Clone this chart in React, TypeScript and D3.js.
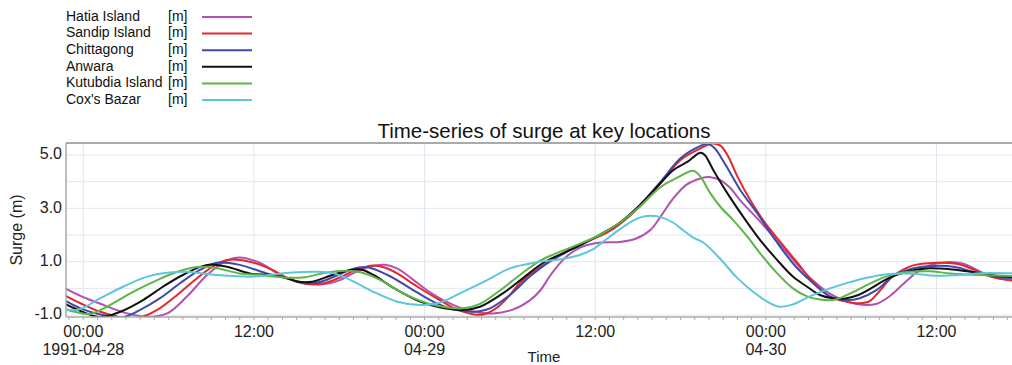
import React from "react";
import * as d3 from "d3";

// hours after 1991-04-28 00:00 -> surge (m)
const hatia: [number, number][] = [
  [-1.6, 0.08], [-0.2, -0.28], [1.2, -0.58], [3.1, -0.94], [4.5, -1.07], [5.9, -0.94],
  [7.3, -0.3], [8.7, 0.5], [10.1, 1.04], [11.0, 1.16], [12.4, 0.96], [14.0, 0.46],
  [15.7, 0.19], [17.0, 0.16], [18.0, 0.3], [19.1, 0.6], [20.2, 0.82], [21.2, 0.88],
  [22.1, 0.74], [23.0, 0.4], [24.2, -0.08], [25.6, -0.52], [27.2, -0.85], [28.8, -0.94],
  [30.2, -0.8], [31.4, -0.45], [32.1, -0.1], [33.0, 0.6], [34.0, 1.2], [34.9, 1.52],
  [36.1, 1.7], [37.7, 1.74], [38.8, 1.85], [39.9, 2.2], [40.6, 2.69], [41.5, 3.38],
  [42.4, 3.88], [43.4, 4.12], [44.1, 4.17], [44.8, 4.06], [45.5, 3.76], [46.2, 3.3],
  [47.6, 2.5], [49.0, 1.65], [50.2, 0.9], [51.3, 0.3], [52.5, -0.2], [53.7, -0.5],
  [54.8, -0.62], [55.8, -0.58], [56.7, -0.3], [57.6, 0.13], [58.6, 0.6], [59.5, 0.86],
  [60.7, 0.98], [61.9, 0.92], [63.1, 0.62], [64.3, 0.38], [65.5, 0.3],
];

const sandip: [number, number][] = [
  [-1.6, -0.19], [-0.2, -0.56], [1.2, -0.88], [2.6, -1.08], [3.8, -1.12], [5.2, -0.81],
  [6.6, -0.25], [8.0, 0.38], [9.1, 0.81], [10.1, 1.06], [11.7, 1.0], [13.3, 0.69],
  [14.5, 0.35], [15.9, 0.15], [17.0, 0.2], [18.1, 0.42], [19.2, 0.7], [20.4, 0.86],
  [21.2, 0.78], [22.1, 0.55], [23.5, 0.06], [25.1, -0.45], [26.3, -0.8], [27.4, -0.97],
  [28.2, -0.97], [29.1, -0.72], [30.0, -0.25], [30.7, 0.2], [31.6, 0.6], [32.6, 0.95],
  [34.2, 1.44], [35.4, 1.75], [36.8, 2.08], [37.7, 2.4], [39.1, 3.05], [40.6, 3.95],
  [42.0, 4.81], [43.4, 5.25], [44.2, 5.43], [44.8, 5.35], [45.3, 5.0], [46.0, 4.19],
  [46.9, 3.31], [47.8, 2.56], [49.0, 1.75], [50.2, 0.97], [51.3, 0.25], [52.5, -0.31],
  [53.7, -0.5], [54.6, -0.56], [55.3, -0.48], [56.0, -0.1], [56.9, 0.44], [58.3, 0.85],
  [60.0, 0.96], [61.4, 0.92], [62.6, 0.71], [63.8, 0.44], [65.5, 0.28],
];

const chittagong: [number, number][] = [
  [-1.6, -0.37], [-0.2, -0.75], [1.2, -0.98], [2.8, -1.08], [4.0, -0.81], [5.4, -0.37],
  [6.8, 0.19], [8.2, 0.69], [9.4, 0.96], [11.0, 0.88], [12.9, 0.56], [14.2, 0.4],
  [15.5, 0.2], [16.5, 0.22], [17.7, 0.45], [18.8, 0.7], [19.9, 0.8], [21.4, 0.5],
  [23.0, 0.0], [24.6, -0.5], [26.0, -0.79], [27.4, -0.88], [28.6, -0.75], [30.0, -0.25],
  [31.4, 0.44], [32.8, 1.0], [34.2, 1.42], [36.3, 2.0], [37.7, 2.45], [39.1, 3.1],
  [40.6, 4.0], [42.0, 4.88], [43.4, 5.34], [43.9, 5.42], [44.4, 5.25], [45.1, 4.69],
  [46.2, 3.69], [47.4, 2.81], [48.5, 1.94], [49.9, 0.94], [51.1, 0.3], [52.5, -0.3],
  [53.7, -0.44], [54.6, -0.37], [55.8, -0.06], [56.9, 0.44], [58.4, 0.75], [59.8, 0.84],
  [61.2, 0.81], [62.6, 0.62], [64.0, 0.44], [65.5, 0.38],
];

const anwara: [number, number][] = [
  [-1.6, -0.5], [-0.2, -0.85], [1.2, -1.08], [2.6, -0.88], [4.2, -0.44], [5.6, 0.06],
  [7.0, 0.5], [8.7, 0.88], [10.1, 0.81], [11.7, 0.56], [13.1, 0.5], [14.2, 0.4],
  [15.0, 0.26], [16.1, 0.25], [17.4, 0.48], [18.8, 0.69], [19.6, 0.7], [20.4, 0.5],
  [22.0, -0.04], [23.7, -0.5], [25.1, -0.72], [26.7, -0.81], [27.9, -0.69], [29.5, -0.19],
  [30.9, 0.38], [32.3, 0.94], [33.7, 1.31], [34.9, 1.6], [36.3, 2.0], [37.7, 2.45],
  [39.1, 3.1], [39.9, 3.55], [40.6, 3.95], [41.5, 4.44], [42.5, 4.75], [42.9, 4.92],
  [43.4, 5.08], [43.7, 5.0], [44.3, 4.44], [45.3, 3.56], [46.4, 2.69], [47.6, 1.81],
  [48.8, 1.06], [49.9, 0.44], [50.9, 0.06], [51.8, -0.25], [52.7, -0.37], [53.6, -0.38],
  [54.5, -0.25], [55.3, -0.03], [56.7, 0.4], [58.1, 0.65], [59.5, 0.75], [60.9, 0.72],
  [62.4, 0.62], [63.8, 0.5], [65.5, 0.42],
];

const kutubdia: [number, number][] = [
  [-1.6, -0.72], [-0.6, -0.88], [0.5, -0.96], [1.9, -0.62], [3.5, -0.13], [5.2, 0.31],
  [6.6, 0.62], [8.0, 0.8], [9.4, 0.75], [11.0, 0.56], [12.4, 0.5], [14.3, 0.4],
  [15.6, 0.42], [17.0, 0.58], [18.4, 0.66], [19.5, 0.6], [20.9, 0.31], [22.5, -0.19],
  [24.2, -0.56], [25.6, -0.72], [26.7, -0.75], [27.9, -0.58], [29.3, -0.08], [30.7, 0.5],
  [32.1, 1.03], [33.2, 1.3], [34.6, 1.6], [36.3, 2.0], [37.7, 2.45], [39.1, 3.05],
  [40.6, 3.8], [41.7, 4.13], [42.9, 4.41], [43.4, 4.19], [44.1, 3.56], [44.8, 3.06],
  [45.7, 2.56], [46.7, 1.94], [47.6, 1.31], [48.8, 0.56], [49.9, 0.0], [50.9, -0.3],
  [51.8, -0.42], [52.9, -0.42], [53.9, -0.2], [55.1, 0.12], [56.5, 0.45], [58.1, 0.62],
  [59.5, 0.64], [61.0, 0.56], [63.1, 0.5], [65.5, 0.46],
];

const coxsBazar: [number, number][] = [
  [-1.6, -0.75], [-0.4, -0.81], [1.2, -0.37], [2.8, 0.06], [4.5, 0.44], [6.1, 0.59],
  [7.3, 0.62], [9.4, 0.5], [11.9, 0.44], [14.7, 0.59], [16.3, 0.62], [17.6, 0.56],
  [18.8, 0.31], [20.4, -0.13], [22.1, -0.5], [23.5, -0.62], [24.9, -0.56], [26.7, -0.13],
  [28.4, 0.31], [30.0, 0.75], [31.9, 0.98], [33.7, 1.1], [34.9, 1.25], [35.8, 1.45],
  [36.8, 1.85], [37.7, 2.2], [38.7, 2.55], [39.6, 2.71], [40.6, 2.67], [41.5, 2.46],
  [42.0, 2.25], [42.9, 1.9], [43.6, 1.72], [44.8, 1.1], [45.9, 0.44], [47.1, -0.13],
  [48.3, -0.56], [49.0, -0.69], [49.9, -0.6], [51.1, -0.3], [52.5, 0.0], [53.7, 0.2],
  [55.1, 0.4], [56.7, 0.54], [58.4, 0.55], [60.0, 0.47], [61.7, 0.5], [63.1, 0.57],
  [65.5, 0.56],
];

const seriesNames = ["Hatia Island", "Sandip Island", "Chittagong", "Anwara", "Kutubdia Island", "Cox's Bazar"];
const seriesColors = ["#b352ae", "#e5262b", "#3d4aa8", "#111111", "#5cb644", "#5ec5db"];
const seriesData = [hatia, sandip, chittagong, anwara, kutubdia, coxsBazar];

const tickHours = [0, 12, 24, 36, 48, 60];
const tickTimes = ["00:00", "12:00", "00:00", "12:00", "00:00", "12:00"];
const tickDates = ["1991-04-28", "", "04-29", "", "04-30", ""];
const yTicks = [-1, 1, 3, 5];
const yGrid = [-1, 0, 1, 2, 3, 4, 5];

const W = 1012;
const H = 365;
const plot = { left: 66, right: 1013, top: 143, bottom: 317 };
const font = "'Liberation Sans', Arial, sans-serif";

export default function App() {
  const x = d3
    .scaleLinear()
    .domain([(plot.left - 83.3) / 14.22, (plot.right - 83.3) / 14.22])
    .range([plot.left, plot.right]);
  const y = d3.scaleLinear().domain([-1.075, 5.45]).range([plot.bottom, plot.top]);

  const line = d3
    .line<[number, number]>()
    .x((d) => x(d[0]))
    .y((d) => y(d[1]))
    .curve(d3.curveCatmullRom.alpha(0.5));

  const minorHours = d3.range(-1, 66);

  return (
    <svg
      width={W}
      height={H}
      style={{ position: "absolute", left: 0, top: 0, background: "#fff" }}
      fontFamily={font}
    >
      <defs>
        <clipPath id="plotClip">
          <rect x={plot.left} y={plot.top} width={plot.right - plot.left} height={plot.bottom - plot.top} />
        </clipPath>
      </defs>

      {/* legend */}
      {seriesNames.map((name, i) => {
        const ly = 17 + i * 16.6;
        return (
          <g key={name}>
            <text x={66} y={ly} dominantBaseline="middle" fontSize={14} fill="#111">
              {name}
            </text>
            <text x={168} y={ly} dominantBaseline="middle" fontSize={14} fill="#111">
              [m]
            </text>
            <line x1={202} x2={252} y1={ly} y2={ly} stroke={seriesColors[i]} strokeWidth={2} />
          </g>
        );
      })}

      {/* title */}
      <text x={544} y={138} textAnchor="middle" fontSize={20.5} fill="#111">
        Time-series of surge at key locations
      </text>

      {/* grid */}
      {yGrid.map((v) => (
        <line key={"gy" + v} x1={plot.left} x2={plot.right} y1={y(v)} y2={y(v)} stroke="#dfe7ee" strokeWidth={1} />
      ))}
      {tickHours.map((h) => (
        <line key={"gx" + h} x1={x(h)} x2={x(h)} y1={plot.top} y2={plot.bottom} stroke="#dfe7ee" strokeWidth={1} />
      ))}

      {/* series */}
      <g clipPath="url(#plotClip)">
        {seriesData.map((d, i) => (
          <path
            key={seriesNames[i]}
            d={line(d) ?? ""}
            fill="none"
            stroke={seriesColors[i]}
            strokeWidth={2}
            strokeLinejoin="round"
          />
        ))}
      </g>

      {/* frame */}
      <line x1={plot.left} x2={plot.right} y1={plot.top} y2={plot.top} stroke="#aaaaaa" strokeWidth={2} />
      <line x1={plot.left} x2={plot.left} y1={plot.top} y2={plot.bottom} stroke="#aaaaaa" strokeWidth={1.5} />
      <line x1={plot.left} x2={plot.right} y1={plot.bottom} y2={plot.bottom} stroke="#aaaaaa" strokeWidth={1.5} />

      {/* x ticks */}
      {minorHours.map((h) => (
        <line key={"mt" + h} x1={x(h)} x2={x(h)} y1={plot.bottom} y2={plot.bottom + 3} stroke="#aaaaaa" strokeWidth={1} />
      ))}
      {tickHours.map((h, i) => (
        <g key={"xt" + h}>
          <text x={x(h)} y={337} textAnchor="middle" fontSize={16} fill="#222">
            {tickTimes[i]}
          </text>
          {tickDates[i] && (
            <text x={x(h)} y={355} textAnchor="middle" fontSize={16} fill="#222">
              {tickDates[i]}
            </text>
          )}
        </g>
      ))}
      <text x={544} y={362} textAnchor="middle" fontSize={15} fill="#222">
        Time
      </text>

      {/* y ticks */}
      {yTicks.map((v) => (
        <text key={"yt" + v} x={62} y={y(v)} textAnchor="end" dominantBaseline="middle" fontSize={16} fill="#222">
          {v.toFixed(1)}
        </text>
      ))}
      <text
        transform={`translate(18, 230) rotate(-90)`}
        textAnchor="middle"
        dominantBaseline="middle"
        fontSize={16}
        fill="#222"
      >
        Surge (m)
      </text>
    </svg>
  );
}
